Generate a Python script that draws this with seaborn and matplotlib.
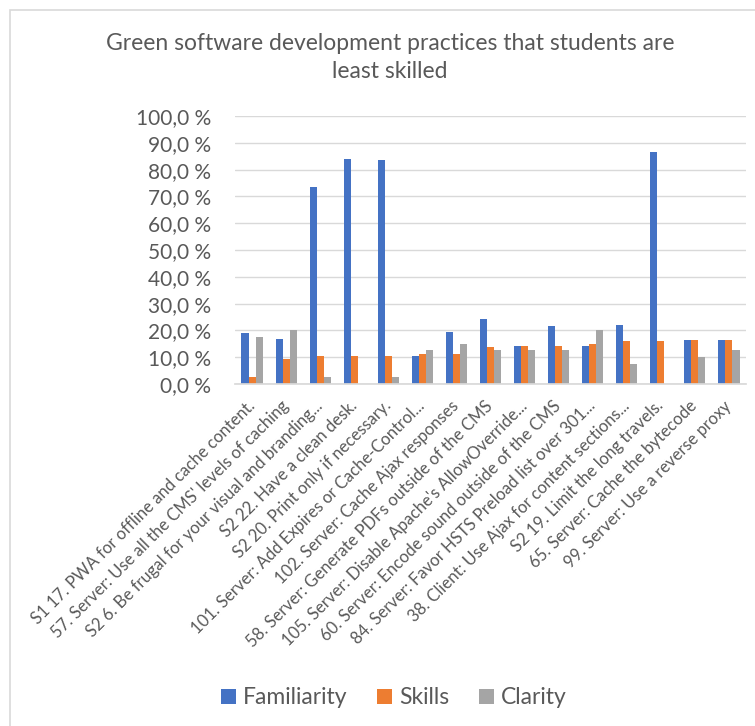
import matplotlib
matplotlib.use("Agg")
import matplotlib.pyplot as plt
import seaborn as sns
import pandas as pd
from matplotlib.patches import Rectangle

categories = [
    "S1 17. PWA for offline and cache content.",
    "57. Server: Use all the CMS' levels of caching",
    "S2 6. Be frugal for your visual and branding...",
    "S2 22. Have a clean desk.",
    "S2 20. Print only if necessary.",
    "101. Server: Add Expires or Cache-Control...",
    "102. Server: Cache Ajax responses",
    "58. Server: Generate PDFs outside of the CMS",
    "105. Server: Disable Apache's AllowOverride...",
    "60. Server: Encode sound outside of the CMS",
    "84. Server: Favor HSTS Preload list over 301...",
    "38. Client: Use Ajax for content sections...",
    "S2 19. Limit the long travels.",
    "65. Server: Cache the bytecode",
    "99. Server: Use a reverse proxy",
]
familiarity = [18.9, 16.9, 73.6, 84.1, 83.7, 10.6, 19.5, 24.4, 14.3, 21.5, 14.3, 22.1, 86.7, 16.3, 16.3]
skills = [2.7, 9.2, 10.4, 10.4, 10.6, 11.2, 11.2, 13.9, 14.3, 14.3, 14.9, 15.9, 15.9, 16.3, 16.3]
clarity = [17.4, 20.1, 2.7, 0.0, 2.7, 12.6, 15.0, 12.6, 12.6, 12.6, 20.1, 7.5, 0.0, 10.1, 12.6]
series = ["Familiarity", "Skills", "Clarity"]
colors = ["#4472C4", "#ED7D31", "#A5A5A5"]
ytick_values = [0, 10, 20, 30, 40, 50, 60, 70, 80, 90, 100]
ytick_labels = ["0,0 %", "10,0 %", "20,0 %", "30,0 %", "40,0 %", "50,0 %",
                "60,0 %", "70,0 %", "80,0 %", "90,0 %", "100,0 %"]
title_lines = ["Green software development practices that students are", "least skilled"]

rows = []
for name, vals in zip(series, [familiarity, skills, clarity]):
    for c, v in zip(categories, vals):
        rows.append({"category": c, "series": name, "value": v})
df = pd.DataFrame(rows)

sns.set_theme(style="white")
plt.rcParams["font.family"] = ["Lato", "DejaVu Sans"]
text_color = "#595959"
grid_color = "#D9D9D9"

fig = plt.figure(figsize=(7.55, 7.26), dpi=100)
fig.patch.set_facecolor("white")
ax = fig.add_axes([235 / 755, 1 - 384 / 726, 511 / 755, 268 / 726])

sns.barplot(data=df, x="category", y="value", hue="series", order=categories,
            hue_order=series, palette=colors, width=0.62, linewidth=0,
            saturation=1, ax=ax)

handles, labels = ax.get_legend_handles_labels()
if ax.get_legend() is not None:
    ax.get_legend().remove()

ax.set_ylim(0, 100)
ax.set_yticks(ytick_values)
ax.set_yticklabels(ytick_labels, fontsize=15, color=text_color)
ax.set_xlabel("")
ax.set_ylabel("")
ax.yaxis.grid(True, color=grid_color, linewidth=1)
ax.set_axisbelow(True)
for s in ["top", "right", "left"]:
    ax.spines[s].set_visible(False)
ax.spines["bottom"].set_color(grid_color)
ax.tick_params(axis="both", length=0)
ax.tick_params(axis="y", pad=17)
ax.set_xticks(range(len(categories)))
ax.set_xticklabels(categories, rotation=45, ha="right", va="center",
                   rotation_mode="anchor", fontsize=12, color=text_color)
ax.tick_params(axis="x", pad=14)

fig.text(390 / 755, 1 - 43 / 726, title_lines[0], ha="center", va="center",
         fontsize=16.5, color=text_color)
fig.text(390 / 755, 1 - 72 / 726, title_lines[1], ha="center", va="center",
         fontsize=16.5, color=text_color)

fig.legend(handles, labels, loc="center", bbox_to_anchor=(394 / 755, 1 - 698 / 726),
           ncol=3, frameon=False, fontsize=16.5, handlelength=0.66, handleheight=0.66,
           handletextpad=0.3, columnspacing=1.3, labelcolor=text_color)

fig.patches.append(Rectangle((10 / 755, -0.01), 1.0, 1 - 10 / 726 + 0.01,
                             transform=fig.transFigure, fill=False,
                             edgecolor=grid_color, linewidth=1.2))

fig.savefig("out.png", dpi=100, facecolor="white")
